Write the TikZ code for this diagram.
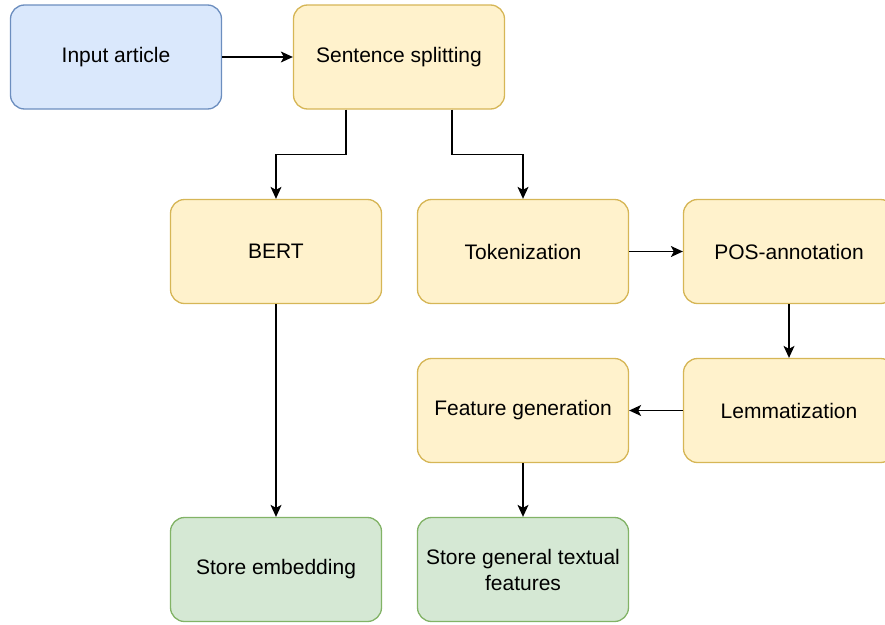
\documentclass[tikz,border=0pt]{standalone}
\usepackage{fontspec}
\setmainfont{Liberation Sans}
\usepackage{tikz}
\usetikzlibrary{arrows.meta, positioning}
\usepackage{xcolor}
\definecolor{blueFill}{HTML}{DAE8FC}
\definecolor{blueLine}{HTML}{6C8EBF}
\definecolor{yellowFill}{HTML}{FFF2CC}
\definecolor{yellowLine}{HTML}{D6B656}
\definecolor{greenFill}{HTML}{D5E8D4}
\definecolor{greenLine}{HTML}{82B366}

\begin{document}
\begin{tikzpicture}[x=1pt, y=-1pt,
    box/.style={rounded corners=14pt, line width=1.3pt, minimum width=211pt,
                minimum height=104pt, align=center,
                font=\fontsize{21}{26}\selectfont},
    inbox/.style={box, fill=blueFill, draw=blueLine},
    stepbox/.style={box, fill=yellowFill, draw=yellowLine},
    outbox/.style={box, fill=greenFill, draw=greenLine},
    arr/.style={-{Stealth[length=12pt, width=11pt, inset=3pt]}, line width=1.3pt}]
  \useasboundingbox (0,0) rectangle (885,624);
  % Input and first processing step
  \node[inbox]   (input) at (116,57)    {Input article};
  \node[stepbox] (split) at (399,57)    {Sentence splitting};
  % Embedding branch
  \node[stepbox] (bert)  at (276,251.5) {BERT};
  \node[outbox]  (emb)   at (276,569.5) {Store embedding};
  % Feature branch
  \node[stepbox] (tok)   at (523,251.5) {Tokenization};
  \node[stepbox] (pos)   at (789,251.5) {POS-annotation};
  \node[stepbox] (lemma) at (789,410.5) {Lemmatization};
  \node[stepbox] (feat)  at (523,410.5) {Feature generation};
  \node[outbox]  (store) at (523,569.5) {Store general textual\\features};
  % Connectors
  \draw[arr] (input) -- (split);
  \draw[arr] ([xshift=-53pt]split.south) -- ++(0,45) -| (bert.north);
  \draw[arr] ([xshift=53pt]split.south) -- ++(0,45) -| (tok.north);
  \draw[arr] (bert) -- (emb);
  \draw[arr] (tok) -- (pos);
  \draw[arr] (pos) -- (lemma);
  \draw[arr] (lemma) -- (feat);
  \draw[arr] (feat) -- (store);
\end{tikzpicture}
\end{document}
